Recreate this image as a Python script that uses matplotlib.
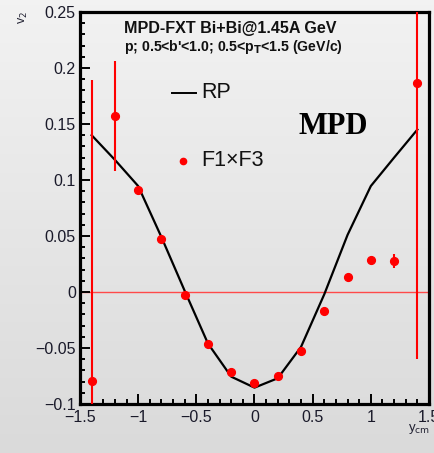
import numpy as np
import matplotlib
matplotlib.use("Agg")
import matplotlib.pyplot as plt
from matplotlib.ticker import MultipleLocator, FixedLocator

# ---- data ----
rp_x = [-1.4, -1.2, -1.0, -0.8, -0.6, -0.4, -0.2, 0.0, 0.2, 0.4, 0.6, 0.8, 1.0, 1.2, 1.4]
rp_v2 = [0.140, 0.118, 0.0946, 0.049, 0.001, -0.046, -0.0756, -0.0854, -0.077, -0.049, -0.002, 0.051, 0.0946, 0.120, 0.145]

f13_x = [-1.4, -1.2, -1.0, -0.8, -0.6, -0.4, -0.2, 0.0, 0.2, 0.4, 0.6, 0.8, 1.0, 1.2, 1.4]
f13_v2 = [-0.0795, 0.157, 0.091, 0.047, -0.003, -0.046, -0.0717, -0.0815, -0.075, -0.0527, -0.0167, 0.0134, 0.0286, 0.0277, 0.187]
f13_err = [0.2685, 0.049, 0.002, 0.002, 0.002, 0.002, 0.002, 0.002, 0.002, 0.002, 0.002, 0.002, 0.002, 0.006, 0.247]

x_ticks = [-1.5, -1.0, -0.5, 0.0, 0.5, 1.0, 1.5]
x_ticklabels = ["\u22121.5", "\u22121", "\u22120.5", "0", "0.5", "1", "1.5"]
y_ticks = [-0.1, -0.05, 0.0, 0.05, 0.1, 0.15, 0.2, 0.25]
y_ticklabels = ["\u22120.1", "\u22120.05", "0", "0.05", "0.1", "0.15", "0.2", "0.25"]

plt.rcParams['font.family'] = ['Liberation Sans', 'DejaVu Sans']

W, H = 435, 453
fig = plt.figure(figsize=(W / 100, H / 100), dpi=100)

# background gradient
bg = fig.add_axes([0, 0, 1, 1], zorder=-10)
grad = np.linspace(0.95, 0.855, 256).reshape(-1, 1)
bg.imshow(np.dstack([grad, grad, grad]), aspect='auto', extent=[0, 1, 0, 1])
bg.set_axis_off()

L, R, T, B = 80, 429, 12, 404
ax = fig.add_axes([L / W, 1 - B / H, (R - L) / W, (B - T) / H])
ax.set_facecolor('none')

ax.set_xlim(-1.5, 1.5)
ax.set_ylim(-0.1, 0.25)

ax.axhline(0, color='#ff4a4a', lw=1.0, zorder=1)
ax.plot(rp_x, rp_v2, color='black', lw=1.6, zorder=2)
ax.errorbar(f13_x, f13_v2, yerr=f13_err, fmt='o', color='red', ms=5.6,
            elinewidth=1.5, capsize=0, zorder=3)

for s in ['left', 'bottom', 'top', 'right']:
    ax.spines[s].set_linewidth(2.3)
ax.xaxis.set_major_locator(FixedLocator(x_ticks))
ax.set_xticklabels(x_ticklabels)
ax.yaxis.set_major_locator(FixedLocator(y_ticks))
ax.set_yticklabels(y_ticklabels)
ax.xaxis.set_minor_locator(MultipleLocator(0.1))
ax.yaxis.set_minor_locator(MultipleLocator(0.01))
ax.tick_params(which='both', direction='in', top=False, right=False,
               labelsize=11.5, labelcolor='#1a1a2a', width=1.4)
ax.tick_params(which='major', length=7)
ax.tick_params(which='minor', length=3.6)
ax.tick_params(axis='x', pad=4)
ax.tick_params(axis='y', pad=3)

# texts (figure pixel coords)
def fx(px):
    return px / W
def fy(py):
    return 1 - py / H

fig.text(fx(124), fy(29), "MPD-FXT Bi+Bi@1.45A GeV", fontsize=11.6, fontweight='bold',
         ha='left', va='center', color='#111111')
fig.text(fx(124), fy(47), "p; 0.5<b'<1.0; 0.5<p$_{\\mathbf{T}}$<1.5 (GeV/c)", fontsize=10.2,
         fontweight='bold', ha='left', va='center', color='#111111')

# legend entries
fig.add_artist(plt.Line2D([fx(172), fx(196)], [fy(93), fy(93)], color='black', lw=1.4))
fig.text(fx(201), fy(93), "RP", fontsize=15.5, ha='left', va='center', color='#111111')
fig.add_artist(plt.Line2D([fx(183.5)], [fy(161)], marker='o', color='red', ms=4.5, lw=0))
fig.text(fx(201), fy(161), "F1\u00d7F3", fontsize=15.5, ha='left', va='center', color='#111111')

fig.text(fx(333), fy(127), "MPD", fontsize=22, fontweight='bold', family='Liberation Serif',
         ha='center', va='center', color='black')

fig.text(fx(23), fy(18), "v$_2$", fontsize=9, rotation=90, ha='center', va='center', color='#222233')
fig.text(fx(419), fy(429), "y$_{\\rm cm}$", fontsize=9.5, ha='center', va='center', color='#222233')

fig.savefig("out.png", dpi=100)
